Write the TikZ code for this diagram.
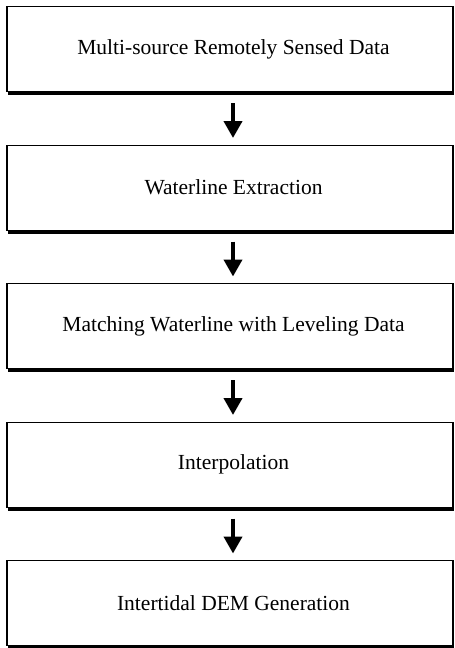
\documentclass[tikz,border=0pt]{standalone}
\usepackage{fontspec}
\setmainfont{Liberation Serif}
\usetikzlibrary{arrows.meta}
\begin{document}
\begin{tikzpicture}[x=1pt,y=-1pt,
  stepbox/.style={draw=black, line width=1.1pt, minimum width=446pt, minimum height=85pt,
    inner sep=0pt, font=\fontsize{21.5pt}{25pt}\selectfont, anchor=north,
    execute at begin node={\hspace*{7pt}}},
  flowarrow/.style={line width=4pt, -{Triangle[width=18pt,length=17pt]}},
  shadowline/.style={line width=4pt}]
\useasboundingbox (0,0) rectangle (455,648);
\node[stepbox] (b1) at (230,6)     {Multi-source Remotely Sensed Data};
\node[stepbox] (b2) at (230,144.5) {Waterline Extraction};
\node[stepbox] (b3) at (230,283)   {Matching Waterline with Leveling Data};
\node[stepbox] (b4) at (230,421.5) {Interpolation};
\node[stepbox] (b5) at (230,560)   {Intertidal DEM Generation};
\foreach \b in {b1,b2,b3,b4,b5}{
  \draw[shadowline] ([xshift=2pt,yshift=-1pt]\b.south west) -- ([yshift=-1pt]\b.south east);
}
\foreach \a/\b in {b1/b2,b2/b3,b3/b4,b4/b5}{
  \draw[flowarrow] ([xshift=3pt,yshift=-11pt]\a.south) -- ([xshift=3pt,yshift=6.5pt]\b.north);
}
\end{tikzpicture}
\end{document}
